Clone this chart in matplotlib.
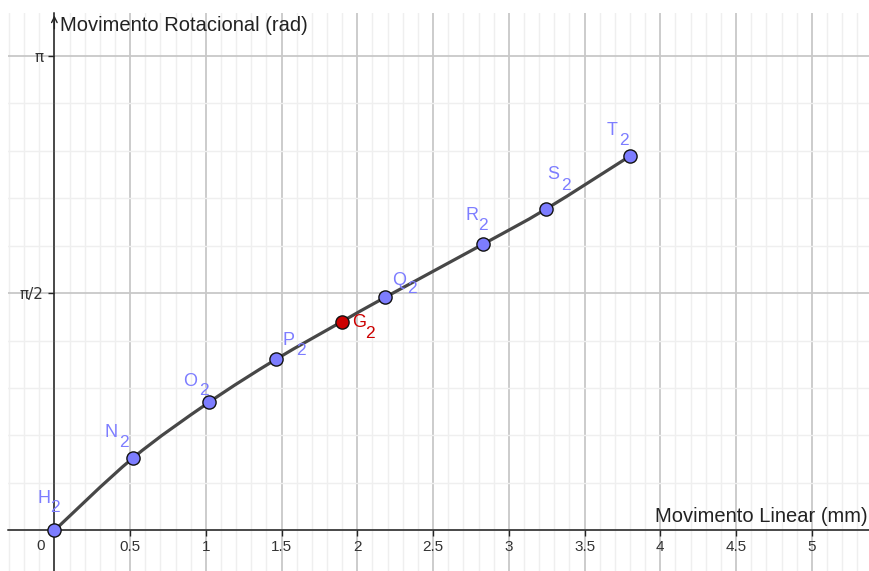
import numpy as np
import matplotlib.pyplot as plt
from matplotlib.path import Path
from matplotlib.patches import PathPatch

plt.rcParams['font.family'] = ['Liberation Sans', 'DejaVu Sans']

# points (x in mm, y in rad)
names = ['H', 'N', 'O', 'P', 'G', 'Q', 'R', 'S', 'T']
xs = [0.0, 0.517, 1.021, 1.463, 1.897, 2.183, 2.832, 3.245, 3.800]
ys = [0.0, 0.478, 0.848, 1.132, 1.381, 1.542, 1.895, 2.126, 2.477]
# label offsets in pixels (letter, subscript)
lab_off = [(-17, 27.5), (-27.7, 21.6), (-25.7, 16.6), (7, 14.3), (10, -5),
           (6.7, 12.3), (-18.3, 24), (1, 30), (-23, 21)]
sub_off = [(-4, 18.5), (-13.7, 11.6), (-9.7, 7.3), (20, 4.3), (23.3, -16.6),
           (21.7, 4), (-5, 14), (14.7, 19), (-11, 11)]

xticks = [0.5, 1, 1.5, 2, 2.5, 3, 3.5, 4, 4.5, 5]
xticklabels = ['0.5', '1', '1.5', '2', '2.5', '3', '3.5', '4', '4.5', '5']
yticks = [np.pi / 2, np.pi]
yticklabels = ['π/2', 'π']

blue = '#7D7DFF'
red = '#CC0000'

fig = plt.figure(figsize=(8.7, 5.71), dpi=100)
ax = fig.add_axes([8 / 870, 0, 862 / 870, 558 / 571])
ax.set_xlim(-0.306, 5.384)
ax.set_ylim(-0.268, 3.423)

# grid
for gx in np.arange(-3, 54) / 10:
    major = abs(gx * 2 - round(gx * 2)) < 1e-9
    ax.axvline(gx, color='#C8C8C8' if major else '#EFEFEF',
               lw=1.3 if major else 1.0, zorder=0)
for k in range(-1, 11):
    gy = k * np.pi / 10
    major = k % 5 == 0
    ax.axhline(gy, color='#C8C8C8' if major else '#EFEFEF',
               lw=1.3 if major else 1.0, zorder=0)

for s in ['top', 'right']:
    ax.spines[s].set_visible(False)
ax.spines['left'].set_position(('data', 0))
ax.spines['bottom'].set_position(('data', 0))
ax.spines['left'].set_color('#252525')
ax.spines['bottom'].set_color('#252525')
ax.spines['left'].set_linewidth(1.1)
ax.spines['bottom'].set_linewidth(1.1)
ax.annotate('', xy=(0, 3.425), xytext=(0, 3.3),
            arrowprops=dict(arrowstyle='->', color='#252525', lw=1.0))

ax.set_xticks(xticks)
ax.set_xticklabels(xticklabels)
ax.set_yticks(yticks)
ax.set_yticklabels(yticklabels, family='DejaVu Sans')
ax.tick_params(axis='both', length=4, width=1, color='#252525',
               labelsize=11, labelcolor='#333333')
ax.tick_params(axis='x', pad=3)
ax.tick_params(axis='y', pad=4)
ax.text(-0.09, -0.1, '0', ha='center', va='center', fontsize=11, color='#333333')

ax.text(0.04, 3.40, 'Movimento Rotacional (rad)', ha='left', va='top',
        fontsize=14.5, color='#222222')
ax.text(5.37, 0.03, 'Movimento Linear (mm)', ha='right', va='bottom',
        fontsize=14.5, color='#222222')

# smooth curve through the points (Catmull-Rom as cubic Bezier)
P = np.column_stack([xs, ys])
ext = np.vstack([P[0], P, P[-1]])
verts = [tuple(P[0])]
codes = [Path.MOVETO]
for i in range(len(P) - 1):
    p0, p1, p2, p3 = ext[i], ext[i + 1], ext[i + 2], ext[i + 3]
    verts += [tuple(p1 + (p2 - p0) / 6), tuple(p2 - (p3 - p1) / 6), tuple(p2)]
    codes += [Path.CURVE4] * 3
ax.add_patch(PathPatch(Path(verts, codes), fill=False, edgecolor='#474747',
                       lw=2.3, zorder=3))

for n, x, y, lo, so in zip(names, xs, ys, lab_off, sub_off):
    c = red if n == 'G' else blue
    ax.plot(x, y, 'o', ms=9.5, mfc=c, mec='#111111', mew=1.0, zorder=5,
            clip_on=False)
    ax.annotate(n, (x, y), xytext=lo, textcoords='offset pixels',
                ha='left', va='baseline', fontsize=13, color=c, zorder=6)
    ax.annotate('2', (x, y), xytext=so, textcoords='offset pixels',
                ha='left', va='baseline', fontsize=12.5, color=c, zorder=6)

fig.savefig('out.png', dpi=100)
